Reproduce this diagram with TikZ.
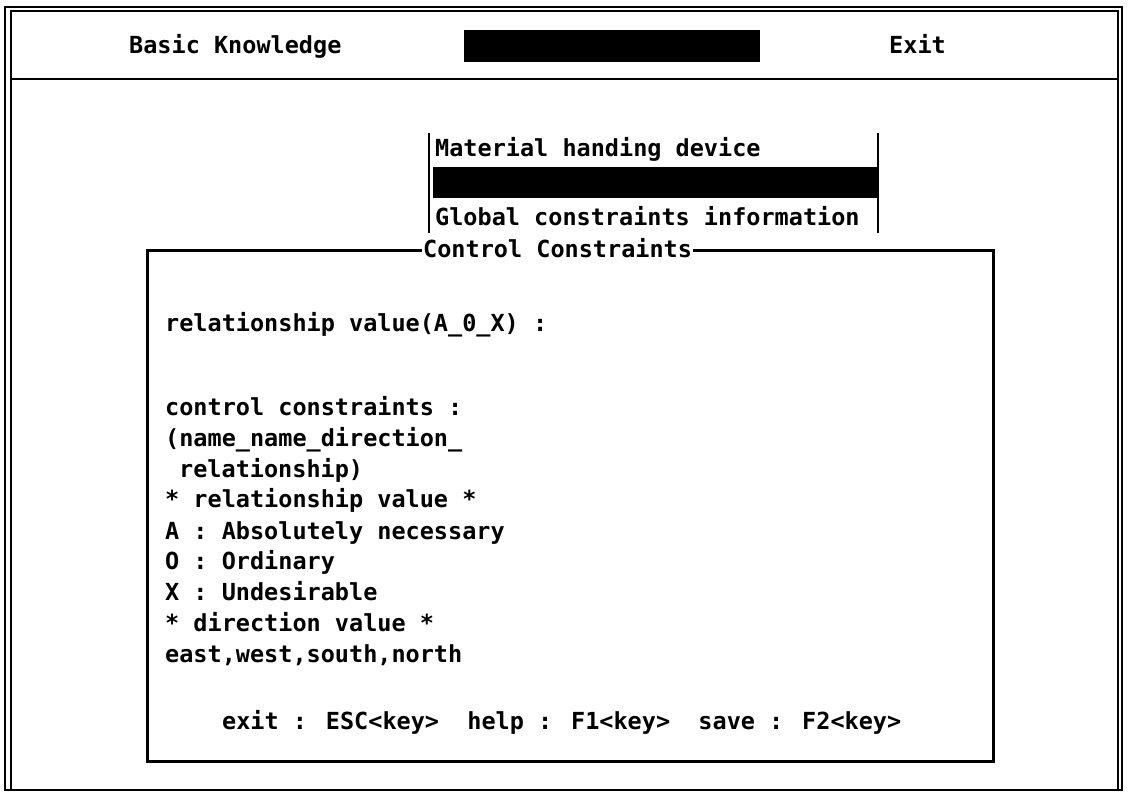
\documentclass[tikz,border=0pt]{standalone}
\usepackage{fontspec}
\newfontfamily\dosfont{DejaVu Sans Mono}
\begin{document}
\begin{tikzpicture}[x=1pt,y=-1pt,
  txt/.style={font=\dosfont\bfseries\fontsize{23.5}{26}\selectfont, anchor=base west, inner sep=0pt},
  frameline/.style={line width=2.8pt},
  boxline/.style={line width=3pt}]
\useasboundingbox (0,0) rectangle (1128,792);
% outer frame
\draw[frameline] (5,7) rectangle (1122,790);
\draw[line width=1.8pt] (11,790) -- (11,11) -- (1118,11) -- (1118,790);
\draw[line width=2.4pt] (11,79) -- (1118,79);
% top menu bar
\node[txt] (basic) at (129,54) {Basic Knowledge};
\fill[black] (464,30) rectangle (760,62);
\node[txt] (exit) at (889,54) {Exit};
% drop-down menu
\draw[line width=2.4pt] (429,133) -- (429,233);
\draw[line width=2.4pt] (878,133) -- (878,233);
\node[txt] (m1) at (435,157) {Material handing device};
\fill[black] (433,167) rectangle (877,198);
\node[txt] (m3) at (435,225) {Global constraints information};
% dialog
\draw[boxline] (147,250) rectangle (993,761);
\node[txt, fill=white, inner xsep=1pt] (title) at (422,257) {Control Constraints};
\node[txt] (l1) at (165,331) {relationship value(A\_0\_X) :};
\node[txt] (l2) at (165,415) {control constraints :};
\node[txt] (l3) at (165,446) {(name\_name\_direction\_};
\node[txt] (l4) at (179,477) {relationship)};
\node[txt] (l5) at (165,507) {* relationship value *};
\node[txt] (l6) at (165,539) {A : Absolutely necessary};
\node[txt] (l7) at (165,569) {O : Ordinary};
\node[txt] (l8) at (165,600) {X : Undesirable};
\node[txt] (l9) at (165,631) {* direction value *};
\node[txt] (l10) at (165,662) {east,west,south,north};
\node[txt] (keys) at (222,729) {exit : ESC<key>\ \ help : F1<key>\ \ save : F2<key>};
\end{tikzpicture}
\end{document}
